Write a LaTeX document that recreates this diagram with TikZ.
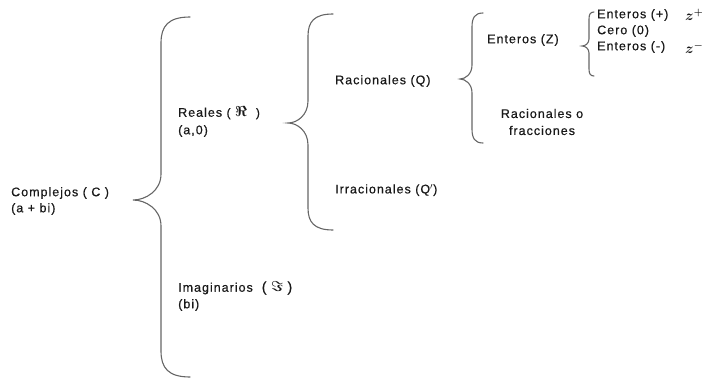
\documentclass[tikz,border=0pt]{standalone}
\usepackage{fontspec}
\usepackage{bm}
\setmainfont{Liberation Sans}[LetterSpace=8,FakeBold=0.5]
\newcommand\cbrace[7]{% hook-x, vertical-x, top-y, bottom-y, tip-x, tip-y, curve length
  \draw[brc] (#1,#3) .. controls ({#2+0.25*(#1-#2)},#3) and (#2,{#3+0.35*#7}) .. (#2,{#3+#7})
    -- (#2,{#6-#7}) .. controls (#2,{#6-0.35*#7}) and ({#5+0.45*(#2-#5)},#6) .. (#5,#6)
    .. controls ({#5+0.45*(#2-#5)},#6) and (#2,{#6+0.35*#7}) .. (#2,{#6+#7})
    -- (#2,{#4-#7}) .. controls (#2,{#4-0.35*#7}) and ({#2+0.25*(#1-#2)},#4) .. (#1,#4);}
\begin{document}
\begin{tikzpicture}[x=1pt,y=-1pt,
  lbl/.style={anchor=west, inner sep=0pt, font=\fontsize{12.5}{17}\selectfont, text=black!90},
  brc/.style={draw=black!60, line width=1.1pt, line cap=round}]
\useasboundingbox (0,0) rectangle (711,385);
% braces
\cbrace{190}{161}{17}{377}{133}{200}{26}
\cbrace{333}{308}{14}{230}{288}{123}{22}
\cbrace{483}{472}{13}{143}{460}{79}{14}
\cbrace{594}{589}{12}{76}{582}{46}{7}
% labels
\node[lbl] (cx) at (11,193) {Complejos ( C )};
\node[lbl] (cx2) at (11,209) {(a + bi)};
\node[lbl] (re) at (178,113) {Reales {\large(} {\Large$\bm{\Re}$} \ {\large)}};
\node[lbl] (re2) at (178,131) {(a,0)};
\node[lbl] (im) at (178,288) {Imaginarios \ {\Large(} {\Large$\bm{\Im}$} {\Large)}};
\node[lbl] (im2) at (178,305) {(bi)};
\node[lbl] (ra) at (335,81) {Racionales (Q)};
\node[lbl] (ir) at (335,190) {Irracionales (Q$^{\prime}$)};
\node[lbl] (ez) at (487,40) {Enteros (Z)};
\node[lbl] (ep) at (597,15) {Enteros (+)};
\node[lbl] (c0) at (597,31) {Cero (0)};
\node[lbl] (en) at (597,47) {Enteros (-)};
\node[lbl] (zp) at (685,15) {\Large$\bm{z}^{\bm{+}}$};
\node[lbl] (zn) at (685,48) {\Large$\bm{z}^{\bm{-}}$};
\node[lbl, anchor=center, align=center] (rf) at (542,122) {Racionales o\\fracciones};
\end{tikzpicture}
\end{document}
